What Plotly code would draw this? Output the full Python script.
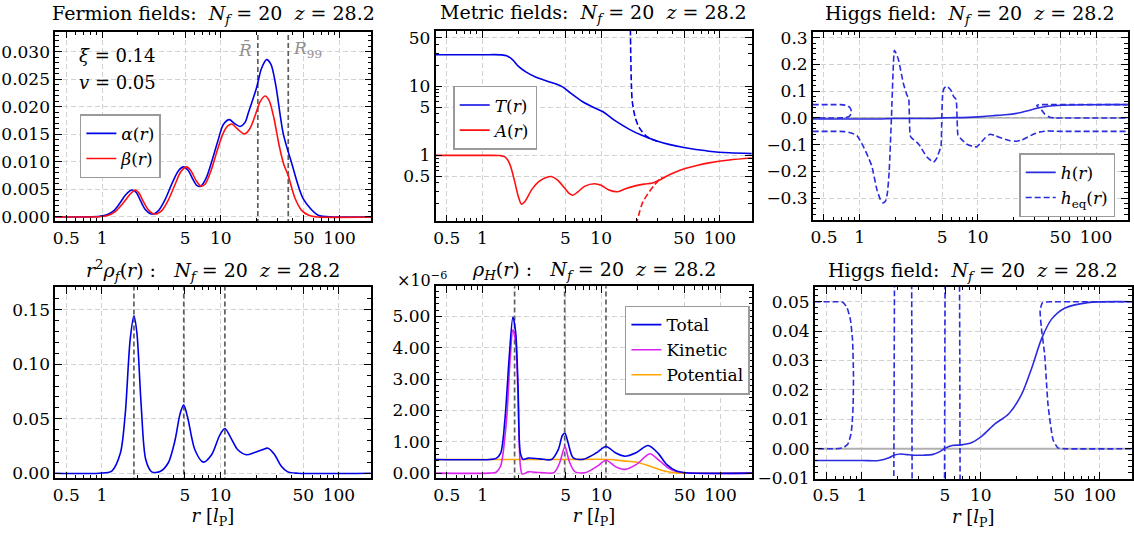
import math
import plotly.graph_objects as go

# ---------------- data ----------------
# Fermion fields
alpha_r = [0.4, 0.8, 0.95, 1.1, 1.25, 1.4, 1.55, 1.7, 1.81, 1.95, 2.1, 2.3, 2.55, 2.75, 3.0, 3.4, 3.9, 4.4,
           4.85, 5.3, 5.8, 6.3, 6.8, 7.5, 8.5, 9.5, 10.5, 11.8, 13.0, 14.5, 16.0, 17.1, 20.0, 22.0, 24.3,
           26.5, 29.0, 33.6, 39.5, 49.5, 66.0, 90.0, 190.0]
alpha_v = [0.0, 0.00002, 0.0001, 0.0004, 0.0011, 0.0024, 0.0038, 0.0047, 0.0049, 0.0044, 0.0030, 0.0014,
           0.0006, 0.0006, 0.0012, 0.0032, 0.0062, 0.0084, 0.0091, 0.0085, 0.0069, 0.0057, 0.0056, 0.0070,
           0.0105, 0.0140, 0.0168, 0.0177, 0.0170, 0.01645, 0.0172, 0.0190, 0.0235, 0.0270, 0.0286,
           0.0277, 0.0240, 0.0151, 0.0098, 0.0033, 0.0003, 0.0, 0.0]
beta_r = [0.4, 0.9, 1.1, 1.3, 1.5, 1.7, 1.9, 2.05, 2.2, 2.45, 2.7, 2.9, 3.2, 3.6, 4.1, 4.6, 5.15, 5.6, 6.2,
          6.8, 7.4, 8.3, 9.3, 10.5, 11.5, 12.4, 13.8, 15.8, 17.5, 19.5, 21.5, 23.6, 25.5, 28.0, 31.0, 34.0,
          37.0, 42.0, 48.0, 55.0, 65.0, 190.0]
beta_v = [0.0, 0.00003, 0.0002, 0.0010, 0.0025, 0.0040, 0.0049, 0.0043, 0.0030, 0.0013, 0.0006, 0.0006,
          0.0012, 0.0030, 0.0058, 0.0082, 0.0091, 0.0084, 0.0066, 0.0056, 0.0060, 0.0085, 0.0120, 0.0153,
          0.0166, 0.0169, 0.0160, 0.0151, 0.0160, 0.0185, 0.0210, 0.0220, 0.0212, 0.0180, 0.0130, 0.0095,
          0.0075, 0.0035, 0.0012, 0.0003, 0.0, 0.0]
r_bar, r_99 = 20.5, 37.0

# Metric fields
T_r = [0.4, 1.0, 1.45, 1.6, 1.8, 2.0, 2.34, 2.8, 3.24, 4.0, 4.76, 5.5, 7.0, 8.5, 10.3, 13.0, 17.3, 22.0,
       29.0, 38.0, 48.5, 65.0, 81.0, 120.0, 190.0]
T_v = [28.5, 28.5, 28.4, 27.5, 24.0, 19.5, 16.0, 13.6, 12.4, 11.0, 9.7, 8.0, 5.95, 5.0, 4.3, 3.2, 2.38, 1.95,
       1.63, 1.43, 1.31, 1.21, 1.15, 1.09, 1.06]
T_asym_r = [17.6, 17.75, 18.0, 18.3, 19.4, 21.0, 24.0, 27.0, 30.0]
T_asym_v = [90.0, 30.0, 10.0, 6.0, 3.5, 2.5, 1.9, 1.7, 1.6]
A_r = [0.4, 1.0, 1.4, 1.55, 1.7, 1.85, 2.0, 2.13, 2.3, 2.6, 3.0, 3.4, 3.8, 4.3, 4.9, 5.4, 5.78, 6.4, 7.3,
       8.8, 10.0, 11.5, 13.8, 16.0, 19.7, 23.0, 27.2, 31.0, 35.2, 42.0, 51.8, 65.0, 81.0, 120.0, 190.0]
A_v = [1.0, 1.0, 0.995, 0.95, 0.75, 0.45, 0.26, 0.198, 0.22, 0.32, 0.42, 0.475, 0.495, 0.44, 0.34, 0.28,
       0.265, 0.30, 0.36, 0.39, 0.37, 0.32, 0.298, 0.33, 0.366, 0.385, 0.40, 0.44, 0.495, 0.57, 0.65, 0.72,
       0.78, 0.86, 0.92]
A_asym_r = [19.9, 20.1, 21.0, 22.4, 25.5, 28.0, 30.9, 33.0]
A_asym_v = [0.10, 0.112, 0.15, 0.21, 0.30, 0.37, 0.445, 0.48]

# Higgs field
h_r = [0.4, 1.0, 1.39, 1.69, 1.86, 2.12, 2.4, 2.65, 3.3, 3.9, 4.57, 5.03, 5.72, 6.9, 8.4, 10.2, 13.2, 17.1,
       22.0, 26.7, 32.3, 39.2, 50.6, 79.0, 190.0]
h_v = [-0.004, -0.004, -0.004, -0.0031, -0.0022, -0.0018, -0.002, -0.0022, -0.0022, -0.002, -0.0009,
       0.0002, 0.0011, 0.0013, 0.0021, 0.0043, 0.0085, 0.0118, 0.0185, 0.0273, 0.0373, 0.044, 0.0478,
       0.0497, 0.05]
heq_main_r = [0.4, 0.6, 0.75, 0.85, 0.95, 1.08, 1.18, 1.27, 1.40, 1.50, 1.58, 1.66, 1.72, 1.78, 1.86, 1.92,
              1.97, 2.02, 2.13, 2.35, 2.52, 2.60, 2.64, 2.68, 2.76, 3.15, 3.71, 4.22, 4.50, 4.75, 4.88,
              4.96, 5.05, 5.20, 5.47, 5.90, 6.25, 6.55, 6.68, 6.80, 7.10, 8.00, 9.20, 9.80, 10.4, 11.5,
              12.7, 14.0, 15.4, 18.7, 21.0, 23.5, 26.0, 29.5, 33.0, 38.0, 50.0, 190.0]
heq_main_v = [-0.05, -0.05, -0.051, -0.056, -0.066, -0.108, -0.145, -0.18, -0.267, -0.305, -0.318, -0.310,
              -0.28, -0.20, 0.0, 0.17, 0.253, 0.245, 0.219, 0.128, 0.085, 0.075, 0.0, -0.065, -0.075,
              -0.097, -0.146, -0.165, -0.150, -0.122, -0.11, 0.0, 0.091, 0.112, 0.119, 0.105, 0.08,
              0.07, 0.0, -0.065, -0.075, -0.097, -0.107, -0.108, -0.097, -0.075, -0.061, -0.066, -0.073,
              -0.085, -0.087, -0.083, -0.073, -0.061, -0.053, -0.049, -0.05, -0.05]
heq_inner_r = [0.4, 0.6, 0.69, 0.75, 0.80, 0.835, 0.85, 0.845, 0.83, 0.81, 0.76, 0.70, 0.6, 0.4]
heq_inner_v = [0.05, 0.05, 0.0498, 0.048, 0.044, 0.037, 0.025, 0.015, 0.009, 0.005, 0.0015, 0.0004, 0.0, 0.0]
heq_outer_r = [190.0, 60.0, 40.0, 33.0, 31.5, 32.3, 34.4, 36.7, 40.5, 44.4, 50.0, 190.0]
heq_outer_v = [0.05, 0.05, 0.05, 0.0497, 0.047, 0.041, 0.032, 0.015, 0.003, 0.0003, 0.0, 0.0]

# Fermion density r^2 rho_f
rf_r = [0.4, 0.94, 1.21, 1.43, 1.57, 1.73, 1.86, 1.97, 2.14, 2.34, 2.63, 3.09, 3.63, 4.13, 4.55, 4.89,
        5.28, 6.08, 7.15, 8.42, 9.87, 10.9, 12.3, 14.0, 16.5, 19.4, 22.5, 25.2, 28.7, 32.5, 37.0, 45.0, 190.0]
rf_v = [0.0, 0.0, 0.002, 0.0185, 0.054, 0.123, 0.1446, 0.129, 0.063, 0.0125, 0.0012, 0.0015, 0.0096,
        0.030, 0.054, 0.0627, 0.0514, 0.0215, 0.0102, 0.017, 0.035, 0.041, 0.032, 0.0215, 0.017, 0.019,
        0.0215, 0.023, 0.017, 0.0066, 0.0012, 0.0, 0.0]
peak_r = [1.86, 4.9, 10.9]

# Higgs energy density (units of 1e-6)
tot_r = [0.4, 1.15, 1.30, 1.42, 1.54, 1.68, 1.80, 1.90, 1.99, 2.08, 2.20, 2.42, 3.03, 3.80, 4.33, 4.70,
         4.93, 5.25, 5.78, 7.0, 9.0, 10.9, 13.2, 15.7, 19.7, 24.6, 29.8, 35.2, 42.7, 52.0, 190.0]
tot_v = [0.436, 0.436, 0.47, 0.64, 1.68, 3.76, 4.98, 4.48, 2.72, 0.64, 0.436, 0.48, 0.456, 0.436, 0.75,
         1.21, 1.27, 0.95, 0.49, 0.44, 0.64, 0.85, 0.64, 0.54, 0.66, 0.88, 0.64, 0.28, 0.07, 0.01, 0.0]
kin_r = [0.4, 1.15, 1.30, 1.42, 1.59, 1.70, 1.80, 1.90, 1.99, 2.08, 2.16, 2.42, 3.03, 4.0, 4.45, 4.93,
         5.35, 6.0, 7.4, 9.3, 10.9, 13.2, 15.7, 19.7, 25.5, 31.0, 38.0, 48.0, 190.0]
kin_v = [0.0, 0.0, 0.03, 0.23, 1.68, 3.55, 4.58, 4.17, 2.41, 0.23, -0.03, 0.04, 0.02, 0.02, 0.33, 0.85,
         0.38, 0.04, 0.02, 0.23, 0.41, 0.20, 0.12, 0.28, 0.62, 0.38, 0.12, 0.02, 0.0]
pot_r = [0.4, 5.0, 11.7, 15.2, 19.7, 23.9, 29.2, 35.2, 42.7, 52.0, 190.0]
pot_v = [0.436, 0.436, 0.436, 0.39, 0.35, 0.26, 0.145, 0.05, 0.01, 0.0, 0.0]

# tick labels
x_major = [0.5, 1, 5, 10, 50, 100]
x_major_text = ["0.5", "1", "5", "10", "50", "100"]
x_minor = [0.4, 0.6, 0.7, 0.8, 0.9, 2, 3, 4, 6, 7, 8, 9, 20, 30, 40, 60, 70, 80, 90, 200]
metric_major = [0.5, 1, 5, 10, 50]
metric_major_text = ["0.5", "1", "5", "10", "50"]
metric_minor = [0.2, 0.3, 0.4, 0.6, 0.7, 0.8, 0.9, 2, 3, 4, 6, 7, 8, 9, 20, 30, 40]

# ---------------- layout helpers ----------------
W, H = 1134, 541
FONT = "DejaVu Serif"
NB = "\u00a0"
BLUE = "#0000e6"
HBLUE = "#2b2be0"
RED = "#ff1010"
MAG = "#dd22f0"
ORANGE = "#ffa500"
GRID = "#d2d2d2"
VLINE = "#5e5e5e"
TICK_SIZE = 17
TITLE_SIZE = 19
LEG_SIZE = 17

# plot-area rectangles in pixels: left, right, top, bottom
rects = {
    1: (53.3, 370.0, 28.3, 222.7),
    2: (434.3, 751.0, 27.5, 222.7),
    3: (812.3, 1127.7, 28.3, 221.7),
    4: (53.3, 369.3, 290.0, 486.0),
    5: (434.3, 751.7, 289.3, 486.0),
    6: (814.3, 1131.7, 290.0, 486.7),
}
XRANGE = [-0.395, 2.268]


def dom(i):
    l, r, t, b = rects[i]
    return [l / W, r / W], [1 - b / H, 1 - t / H]


def common_axis():
    return dict(
        showline=True, linecolor="black", linewidth=1.6, mirror="allticks",
        ticks="inside", ticklen=7, tickwidth=1, tickcolor="black",
        showgrid=True, gridcolor=GRID, gridwidth=1, griddash="5px,3px",
        zeroline=False, tickfont=dict(family=FONT, size=TICK_SIZE, color="black"),
    )


def make_x(i, bottom_row):
    xd, _ = dom(i)
    ax = common_axis()
    ax.update(
        type="log", range=XRANGE, domain=xd, anchor=f"y{i}" if i > 1 else "y",
        tickmode="array", tickvals=x_major, ticktext=x_major_text,
        minor=dict(tickmode="array", tickvals=x_minor, ticks="inside", ticklen=3.5,
                   tickwidth=1, tickcolor="black", showgrid=False),
    )
    if bottom_row:
        ax["title"] = dict(text=f"<i>r</i>{NB}[<i>l</i><sub>P</sub>]",
                           font=dict(family=FONT, size=18, color="black"), standoff=6)
    return ax


def make_y(i, rng, dtick, mdtick, fmt):
    _, yd = dom(i)
    ax = common_axis()
    ax.update(
        range=rng, domain=yd, anchor=f"x{i}" if i > 1 else "x",
        tickmode="linear", tick0=0, dtick=dtick, tickformat=fmt,
        minor=dict(tickmode="linear", tick0=0, dtick=mdtick, ticks="inside", ticklen=3.5,
                   tickwidth=1, tickcolor="black", showgrid=False),
    )
    return ax


fig = go.Figure()


def ref(i):
    return ("x", "y") if i == 1 else (f"x{i}", f"y{i}")


def line(i, xs, ys, color, width=1.6, dash=None, name=None, legend=None, shape="spline", smoothing=0.8):
    xa, ya = ref(i)
    fig.add_trace(go.Scatter(
        x=xs, y=ys, mode="lines", xaxis=xa, yaxis=ya,
        line=dict(color=color, width=width, dash=dash, shape=shape,
                  smoothing=smoothing if shape == "spline" else None),
        name=name, showlegend=name is not None, legend=legend, hoverinfo="skip",
    ))


def vline(i, r, lo, hi, color=VLINE):
    line(i, [r, r], [lo, hi], color, width=1.7, dash="5px,3px", shape="linear")


# Panel 1: fermion fields
vline(1, r_bar, -1, 1)
vline(1, r_99, -1, 1)
line(1, alpha_r, alpha_v, BLUE, name="<i>α</i>(<i>r</i>)", legend="legend")
line(1, beta_r, beta_v, RED, name="<i>β</i>(<i>r</i>)", legend="legend")

# Panel 2: metric fields
line(2, T_asym_r, T_asym_v, BLUE, dash="6px,3px")
line(2, A_asym_r, A_asym_v, RED, dash="6px,3px")
line(2, T_r, T_v, BLUE, name="<i>T</i>(<i>r</i>)", legend="legend2")
line(2, A_r, A_v, RED, name="<i>A</i>(<i>r</i>)", legend="legend2")

# Panel 3: Higgs field
line(3, [0.3, 300], [0, 0], "#8c8c8c", width=1, shape="linear")
line(3, h_r, h_v, HBLUE, name="<i>h</i>(<i>r</i>)", legend="legend3")
line(3, heq_main_r, heq_main_v, HBLUE, dash="6px,3px", name="<i>h</i><sub>eq</sub>(<i>r</i>)",
     legend="legend3", smoothing=0.5)
line(3, heq_inner_r, heq_inner_v, HBLUE, dash="6px,3px", smoothing=0.5)
line(3, heq_outer_r, heq_outer_v, HBLUE, dash="6px,3px", smoothing=0.5)

# Panel 4: fermion density
for r in peak_r:
    vline(4, r, -1, 1)
line(4, rf_r, rf_v, BLUE)

# Panel 5: Higgs energy density
for r in peak_r:
    vline(5, r, -1, 10)
line(5, pot_r, pot_v, ORANGE, name="Potential", legend="legend4")
line(5, kin_r, kin_v, MAG, name="Kinetic", legend="legend4")
line(5, tot_r, tot_v, BLUE, name="Total", legend="legend4")

# Panel 6: Higgs field, zoomed
line(6, [0.3, 300], [0, 0], "#b0b0b0", width=2, shape="linear")
line(6, heq_main_r, heq_main_v, HBLUE, dash="6px,3px", smoothing=0.5)
line(6, heq_inner_r, heq_inner_v, HBLUE, dash="6px,3px", smoothing=0.5)
line(6, heq_outer_r, heq_outer_v, HBLUE, dash="6px,3px", smoothing=0.5)
line(6, h_r, h_v, HBLUE)

layout = dict(
    width=W, height=H, margin=dict(l=0, r=0, t=0, b=0),
    paper_bgcolor="white", plot_bgcolor="white",
    font=dict(family=FONT, size=TICK_SIZE, color="black"),
    xaxis=make_x(1, False), yaxis=make_y(1, [-0.0008, 0.0337], 0.005, 0.001, ".3f"),
    xaxis2=make_x(2, False),
    xaxis3=make_x(3, False), yaxis3=make_y(3, [-0.383, 0.323], 0.1, 0.02, ".1f"),
    xaxis4=make_x(4, True), yaxis4=make_y(4, [-0.0047, 0.1709], 0.05, 0.01, ".2f"),
    xaxis5=make_x(5, True), yaxis5=make_y(5, [-0.165, 5.955], 1.0, 0.2, ".2f"),
    xaxis6=make_x(6, True), yaxis6=make_y(6, [-0.0103, 0.055], 0.01, 0.002, ".2f"),
)
y2 = common_axis()
y2.update(type="log", range=[-0.953, 1.80], domain=dom(2)[1], anchor="x2",
          tickmode="array", tickvals=metric_major, ticktext=metric_major_text,
          minor=dict(tickmode="array", tickvals=metric_minor, ticks="inside", ticklen=3.5,
                     tickwidth=1, tickcolor="black", showgrid=False))
layout["yaxis2"] = y2

legend_style = dict(bgcolor="white", bordercolor="#9a9a9a", borderwidth=1.5,
                    font=dict(family=FONT, size=LEG_SIZE, color="black"),
                    xanchor="left", yanchor="top", tracegroupgap=0, itemwidth=30)
layout["legend"] = dict(legend_style, x=78 / W, y=1 - 113 / H)
layout["legend2"] = dict(legend_style, x=452 / W, y=1 - 84 / H)
layout["legend3"] = dict(legend_style, x=1019 / W, y=1 - 153 / H)
layout["legend4"] = dict(legend_style, x=624 / W, y=1 - 309 / H, traceorder="reversed")
fig.update_layout(**layout)

# panel titles
nf = f"<i>N<sub>f</sub></i>{NB}={NB}20{NB}{NB}<i>z</i>{NB}={NB}28.2"
titles = {
    1: f"Fermion fields:{NB}{NB}{nf}",
    2: f"Metric fields:{NB}{NB}{nf}",
    3: f"Higgs field:{NB}{NB}{nf}",
    4: f"<i>r</i><sup>2</sup><i>ρ<sub>f</sub></i>(<i>r</i>){NB}:{NB}{NB}{NB}{nf}",
    5: f"<i>ρ<sub>H</sub></i>(<i>r</i>){NB}:{NB}{NB}{NB}{nf}",
    6: f"Higgs field:{NB}{NB}{nf}",
}
for i, t in titles.items():
    l, r, top, b = rects[i]
    fig.add_annotation(text=t, x=(l + r) / 2 / W, y=1 - top / H, xref="paper", yref="paper",
                       xanchor="center", yanchor="bottom", yshift=3 if i <= 3 else 1, showarrow=False,
                       font=dict(family=FONT, size=TITLE_SIZE, color="black"))

# annotations in panel 1
fig.add_annotation(text=f"<i>ξ</i>{NB}={NB}0.14", x=75 / W, y=1 - 53 / H, xref="paper", yref="paper",
                   xanchor="left", yanchor="middle", showarrow=False,
                   font=dict(family=FONT, size=18, color="black"))
fig.add_annotation(text=f"<i>v</i>{NB}={NB}0.05", x=75 / W, y=1 - 80 / H, xref="paper", yref="paper",
                   xanchor="left", yanchor="middle", showarrow=False,
                   font=dict(family=FONT, size=18, color="black"))
fig.add_annotation(text="<i>R\u0304</i>", x=math.log10(r_bar), y=1 - 47 / H, xref="x", yref="paper",
                   xanchor="right", yanchor="middle", xshift=-4, showarrow=False,
                   font=dict(family=FONT, size=17, color="#909090"))
fig.add_annotation(text="<i>R</i><sub>99</sub>", x=math.log10(r_99), y=1 - 47 / H, xref="x", yref="paper",
                   xanchor="left", yanchor="middle", xshift=3, showarrow=False,
                   font=dict(family=FONT, size=17, color="#909090"))
fig.add_annotation(text="×10<sup>−6</sup>", x=421 / W, y=1 - 282 / H, xref="paper", yref="paper",
                   xanchor="center", yanchor="middle", showarrow=False,
                   font=dict(family=FONT, size=16, color="black"))

fig.write_html("out.html")
